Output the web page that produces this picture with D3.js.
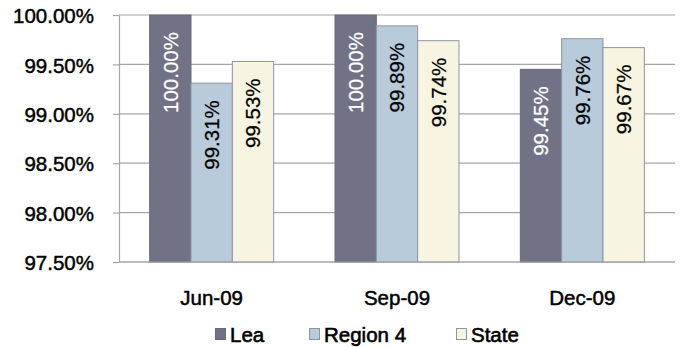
<!DOCTYPE html>
<html>
<head>
<meta charset="utf-8">
<script src="https://cdn.jsdelivr.net/npm/d3@7"></script>
<style>
  html, body { margin: 0; padding: 0; background: #ffffff; }
  svg { display: block; }
  text { font-family: "Liberation Sans", Arial, sans-serif; fill: #000; }
</style>
</head>
<body>
<svg id="chart" width="681" height="347"></svg>
<script>
// Quarterly rates by area
const categories = ["Jun-09", "Sep-09", "Dec-09"];
const seriesNames = ["Lea", "Region 4", "State"];
const leaValues = [100.00, 100.00, 99.45];
const region4Values = [99.31, 99.89, 99.76];
const stateValues = [99.53, 99.74, 99.67];
const yTicks = [97.5, 98.0, 98.5, 99.0, 99.5, 100.0];

const seriesValues = [leaValues, region4Values, stateValues];
const fills = ["#727287", "#b8cbdb", "#f7f5e1"];
const strokes = ["#6a6a7e", "#8f93a6", "#8f93a6"];
const labelColors = ["#ffffff", "#000000", "#000000"];

const svg = d3.select("#chart");
const plot = { left: 119, right: 675, top: 15, bottom: 262 };
const fontSize = 20.5;

const x = d3.scaleBand()
  .domain(categories)
  .range([plot.left, plot.right])
  .paddingInner(0.331)
  .paddingOuter(0.1655);

const xs = d3.scaleBand()
  .domain(seriesNames)
  .range([0, x.bandwidth()]);

const y = d3.scaleLinear()
  .domain([97.5, 100])
  .range([plot.bottom, plot.top]);

// horizontal gridlines
svg.append("g")
  .selectAll("line")
  .data(yTicks)
  .join("line")
  .attr("x1", plot.left)
  .attr("x2", plot.right)
  .attr("y1", d => y(d))
  .attr("y2", d => y(d))
  .attr("stroke", "#a6a6a6")
  .attr("stroke-width", 1.2);

// y axis with percentage labels
const yAxis = d3.axisLeft(y)
  .tickValues(yTicks)
  .tickSizeInner(6)
  .tickSizeOuter(0)
  .tickPadding(19)
  .tickFormat(d => d.toFixed(2) + "%");

const gy = svg.append("g")
  .attr("transform", `translate(${plot.left},0)`)
  .call(yAxis);
gy.select(".domain").attr("stroke", "#a6a6a6").attr("stroke-width", 1.2);
gy.selectAll(".tick line").attr("stroke", "#a6a6a6").attr("stroke-width", 1.2);
gy.selectAll(".tick text")
  .attr("font-size", fontSize)
  .attr("font-family", "Liberation Sans, Arial, sans-serif")
  .attr("fill", "#000")
  .attr("stroke", "#000")
  .attr("stroke-width", 0.45)
  .attr("dy", "0.375em");

// grouped bars
const rows = categories.map((c, i) => ({
  category: c,
  values: seriesNames.map((s, j) => ({ series: s, index: j, value: seriesValues[j][i] }))
}));

const groups = svg.append("g")
  .selectAll("g")
  .data(rows)
  .join("g")
  .attr("transform", d => `translate(${x(d.category)},0)`);

groups.selectAll("rect")
  .data(d => d.values)
  .join("rect")
  .attr("x", d => xs(d.series))
  .attr("width", xs.bandwidth())
  .attr("y", d => y(d.value))
  .attr("height", d => y(97.5) - y(d.value))
  .attr("fill", d => fills[d.index])
  .attr("stroke", d => strokes[d.index])
  .attr("stroke-width", 1);

// value labels, rotated inside the bar tops
groups.selectAll("text.value")
  .data(d => d.values)
  .join("text")
  .attr("class", "value")
  .attr("transform", d => `translate(${xs(d.series) + xs.bandwidth() / 2},${y(d.value) + 17}) rotate(-90)`)
  .attr("text-anchor", "end")
  .attr("dy", "0.36em")
  .attr("font-size", fontSize)
  .style("fill", d => labelColors[d.index])
  .style("stroke", d => labelColors[d.index])
  .style("stroke-width", 0.25)
  .text(d => d.value.toFixed(2) + "%");

// bottom baseline
svg.append("line")
  .attr("x1", plot.left)
  .attr("x2", plot.right)
  .attr("y1", y(97.5))
  .attr("y2", y(97.5))
  .attr("stroke", "#a6a6a6")
  .attr("stroke-width", 1.2);

// category labels
svg.append("g")
  .selectAll("text")
  .data(categories)
  .join("text")
  .attr("x", d => x(d) + x.bandwidth() / 2)
  .attr("y", 305)
  .attr("text-anchor", "middle")
  .attr("font-size", fontSize)
  .attr("stroke", "#000")
  .attr("stroke-width", 0.5)
  .text(d => d);

// legend
const legendX = [215, 309, 456];
const legend = svg.append("g")
  .selectAll("g")
  .data(seriesNames)
  .join("g")
  .attr("transform", (d, i) => `translate(${legendX[i]},0)`);

legend.append("rect")
  .attr("x", 0.5)
  .attr("y", 328.5)
  .attr("width", 10)
  .attr("height", 11)
  .attr("fill", (d, i) => fills[i])
  .attr("stroke", (d, i) => strokes[i])
  .attr("stroke-width", 1);

legend.append("text")
  .attr("x", 15)
  .attr("y", 342)
  .attr("font-size", fontSize)
  .attr("stroke", "#000")
  .attr("stroke-width", 0.6)
  .text(d => d);
</script>
</body>
</html>
